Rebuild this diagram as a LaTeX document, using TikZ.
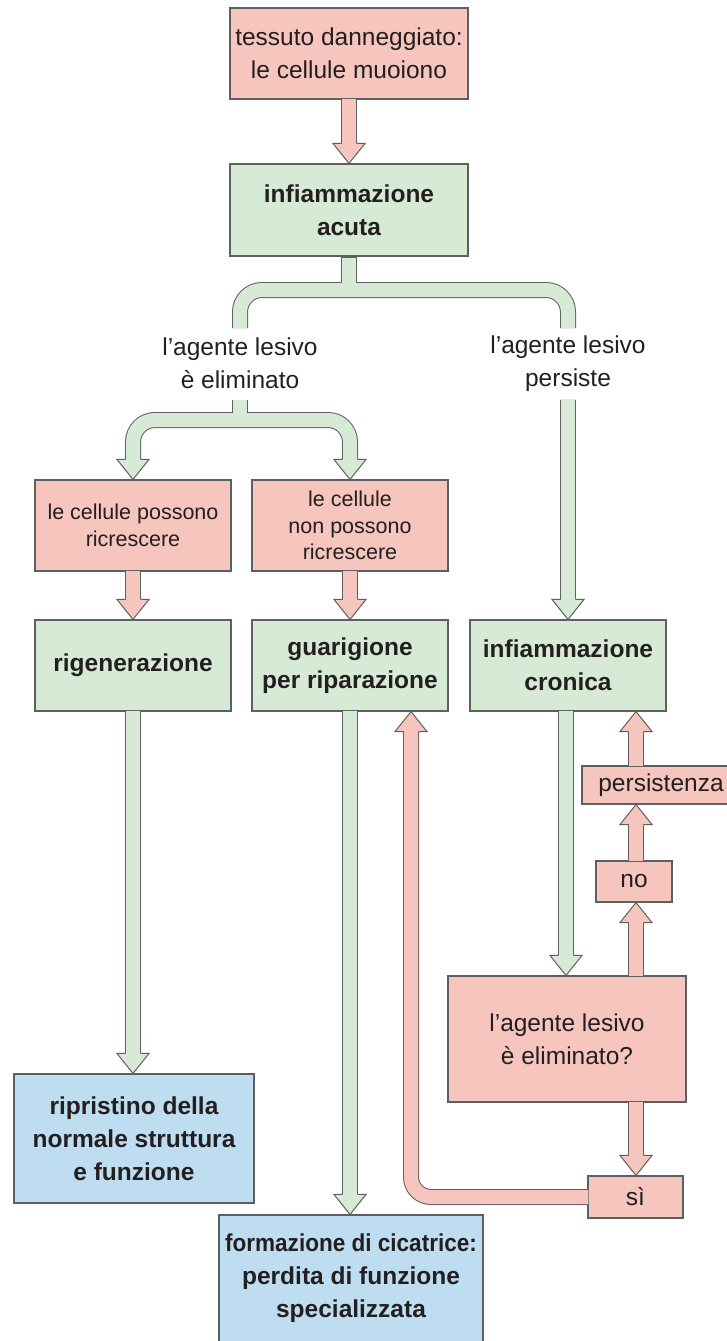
\documentclass[tikz,border=0pt]{standalone}
\usepackage{fontspec}
\setmainfont{Liberation Sans}
\usetikzlibrary{calc}
\definecolor{pk}{HTML}{F6C5BD}
\definecolor{gr}{HTML}{D6EAD5}
\definecolor{bl}{HTML}{BFDDF1}
\definecolor{bd}{HTML}{5E5F61}
\definecolor{tx}{HTML}{231F20}
\newcommand\headdown[2]{%
  \path[fill=#1,draw=bd,line width=1pt] let \p2=(#2) in
    (\x2-7.5pt,\y2+20pt) -- (\x2-16pt,\y2+20pt) -- (\x2,\y2) -- (\x2+16pt,\y2+20pt) -- (\x2+7.5pt,\y2+20pt);}
\newcommand\headup[2]{%
  \path[fill=#1,draw=bd,line width=1pt] let \p2=(#2) in
    (\x2-7.5pt,\y2-20pt) -- (\x2-16pt,\y2-20pt) -- (\x2,\y2) -- (\x2+16pt,\y2-20pt) -- (\x2+7.5pt,\y2-20pt);}
\newcommand\fatdown[3]{%
  \draw[line width=16pt,draw=bd] let \p1=(#2), \p2=(#3) in (\x2,\y1) -- (\x2,\y2+19pt);
  \draw[line width=14pt,draw=#1] let \p1=(#2), \p2=(#3) in (\x2,\y1+1pt) -- (\x2,\y2+19pt);
  \headdown{#1}{#3}}
\newcommand\fatup[3]{%
  \draw[line width=16pt,draw=bd] let \p1=(#2), \p2=(#3) in (\x2,\y1) -- (\x2,\y2-19pt);
  \draw[line width=14pt,draw=#1] let \p1=(#2), \p2=(#3) in (\x2,\y1-1pt) -- (\x2,\y2-19pt);
  \headup{#1}{#3}}
\begin{document}
\begin{tikzpicture}[x=1pt,y=-1pt,
  boxbase/.style={draw=bd,line width=1.1pt,inner sep=0pt,align=center,text=tx},
  pbox/.style={boxbase,fill=pk},
  gbox/.style={boxbase,fill=gr},
  bbox/.style={boxbase,fill=bl},
  reg/.style={font=\fontsize{24.5}{33}\selectfont},
  sml/.style={font=\fontsize{21.5}{26.5}\selectfont},
  bld/.style={font=\fontsize{24.5}{33}\selectfont\bfseries},
  bout/.style={line width=16pt,draw=bd},
  bin/.style={line width=14pt,draw=#1}]
\useasboundingbox (0,0) rectangle (726,1341);
% boxes
\node[pbox,reg,minimum width=238pt,minimum height=91pt] (tess) at (349,53.5) {tessuto danneggiato:\\le cellule muoiono};
\node[gbox,bld,minimum width=238pt,minimum height=92pt] (acuta) at (349,210) {infiammazione\\acuta};
\node[pbox,sml,minimum width=196pt,minimum height=91pt] (poss) at (133,525.5) {le cellule possono\\ricrescere};
\node[pbox,sml,minimum width=196pt,minimum height=91pt] (nonposs) at (350,525.5) {le cellule\\non possono\\ricrescere};
\node[gbox,bld,minimum width=196pt,minimum height=91pt] (rig) at (133,665.5) {rigenerazione};
\node[gbox,bld,minimum width=196pt,minimum height=91pt] (guar) at (350,665.5) {guarigione\\per riparazione};
\node[gbox,bld,minimum width=196pt,minimum height=91pt] (cron) at (568,665.5) {infiammazione\\cronica};
\node[bbox,bld,minimum width=240pt,minimum height=129pt] (ripr) at (134,1138.5) {ripristino della\\normale struttura\\e funzione};
\node[bbox,bld,minimum width=264pt,minimum height=127pt] (cicat) at (351,1278.5) {\scalebox{0.92}[1]{formazione di cicatrice:}\\perdita di funzione\\specializzata};
\node[pbox,reg,minimum width=238pt,minimum height=126pt] (domanda) at (567,1039) {l’agente lesivo\\è eliminato?};
\node[pbox,reg,minimum width=76pt,minimum height=41pt] (no) at (634,881.5) {no};
\node[pbox,reg,minimum width=158pt,minimum height=38pt] (pers) at (661,785) {persistenza};
\node[pbox,reg,minimum width=95pt,minimum height=42pt] (si) at (635.5,1197) {sì};
\node[reg,align=center,text=tx] (lab1) at (240,363.5) {l’agente lesivo\\è eliminato};
\node[reg,align=center,text=tx] (lab2) at (568,363.5) {l’agente lesivo\\persiste};
% coordinates
\coordinate (j1) at (349,290);
\coordinate (l1end) at (240,328);
\coordinate (r1end) at (568,328);
\coordinate (l1bot) at (240,400);
\coordinate (r1bot) at (568,400);
\coordinate (j2) at (240,420);
\coordinate (xg) at (566,0);
\coordinate (xp) at (636,0);
\coordinate (xr) at (411,0);
% top arrow
\fatdown{pk}{tess.south}{acuta.north}
% first split
\draw[bout] (acuta.south) -- (j1);
\draw[bout,rounded corners=22pt] (l1end) |- (j1) -| (r1end);
\draw[bin=gr] ($(acuta.south)+(0,1)$) -- (j1);
\draw[bin=gr,rounded corners=22pt] (l1end) |- (j1) -| (r1end);
% second split
\draw[bout] (l1bot) -- (j2);
\draw[bout,rounded corners=22pt] ($(poss.north)+(0,-19)$) |- (j2) -| ($(nonposs.north)+(0,-19)$);
\draw[bin=gr] (l1bot) -- (j2);
\draw[bin=gr,rounded corners=22pt] ($(poss.north)+(0,-19)$) |- (j2) -| ($(nonposs.north)+(0,-19)$);
\headdown{gr}{poss.north}
\headdown{gr}{nonposs.north}
% persists
\fatdown{gr}{r1bot}{cron.north}
% row arrows
\fatdown{pk}{poss.south}{rig.north}
\fatdown{pk}{nonposs.south}{guar.north}
\fatdown{gr}{rig.south}{rig.south |- ripr.north}
\fatdown{gr}{guar.south}{guar.south |- cicat.north}
\fatdown{gr}{cron.south -| xg}{domanda.north -| xg}
\fatup{pk}{domanda.north -| xp}{no.south -| xp}
\fatup{pk}{no.north -| xp}{pers.south -| xp}
\fatup{pk}{pers.north -| xp}{cron.south -| xp}
\fatdown{pk}{domanda.south -| xp}{si.north -| xp}
% back loop
\draw[bout,rounded corners=20pt] (si.west) -| ($(guar.south -| xr)+(0,19)$);
\draw[bin=pk,rounded corners=20pt] ($(si.west)+(1,0)$) -| ($(guar.south -| xr)+(0,19)$);
\headup{pk}{guar.south -| xr}
\end{tikzpicture}
\end{document}
